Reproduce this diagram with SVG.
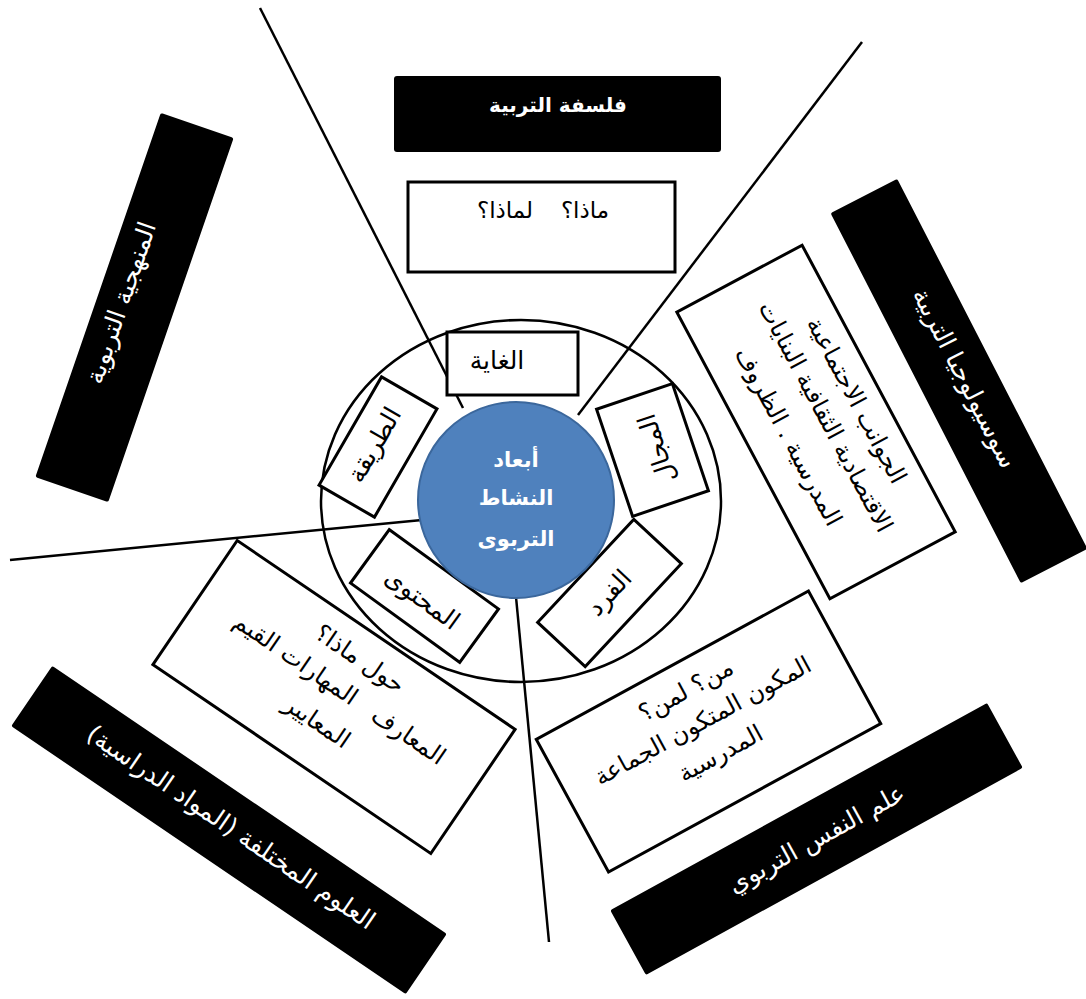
<svg xmlns="http://www.w3.org/2000/svg" width="1086" height="999" viewBox="0 0 1086 999">
  <style>
    .blk { fill: #000; }
    .box { fill: #fff; stroke: #000; stroke-width: 3; }
    .spoke { stroke: #000; stroke-width: 2.5; fill: none; }
    .ring { fill: none; stroke: #000; stroke-width: 2.5; }
    .t { font-family: "DejaVu Sans", sans-serif; direction: rtl; text-anchor: middle; white-space: pre; }
    .w { fill: #fff; }
    .k { fill: #000; }
    .bold { font-weight: bold; }
    .band { font-size: 25px; }
    .note { font-size: 24px; }
    .tag { font-size: 25px; }
  </style>

  <!-- outer theme boxes -->
  <g id="n-philosophy">
    <rect class="blk" x="394" y="76" width="327" height="76" rx="3"/>
    <text class="t w bold" x="558" y="112" font-size="20">فلسفة التربية</text>
  </g>
  <g id="n-why">
    <rect class="box" x="408" y="182" width="267" height="90"/>
    <text class="t k" x="585" y="218" font-size="23">ماذا؟</text>
    <text class="t k" x="505" y="218" font-size="23">لماذا؟</text>
  </g>
  <g id="n-method" transform="translate(134.5,307.5) rotate(-71)">
    <rect class="blk" x="-192.5" y="-38.5" width="385" height="77" rx="2"/>
    <text class="t w band" x="0" y="-6">المنهجية التربوية</text>
  </g>
  <g id="n-sociology" transform="translate(959,381) rotate(62.8)">
    <rect class="blk" x="-208" y="-37.5" width="416" height="75" rx="2"/>
    <text class="t w band" x="0" y="2" font-size="26">سوسيولوجيا التربية</text>
  </g>
  <g id="n-sciences" transform="translate(229,830) rotate(34.2)">
    <rect class="blk" x="-238.5" y="-36.5" width="477" height="73" rx="2"/>
    <text class="t w band" x="0" y="5">العلوم المختلفة (المواد الدراسية)</text>
  </g>
  <g id="n-psychology" transform="translate(816.5,839) rotate(-28.8)">
    <rect class="blk" x="-215" y="-37" width="430" height="74" rx="2"/>
    <text class="t w band" x="0" y="8">علم النفس التربوي</text>
  </g>

  <!-- detail boxes -->
  <g id="n-context" transform="translate(816,422) rotate(61.9)">
    <rect class="box" x="-162.5" y="-71" width="325" height="142"/>
    <text class="t k note" x="0" y="-38">الجوانب الاجتماعية</text>
    <text class="t k note" x="0" y="-3">الاقتصادية الثقافية البنايات</text>
    <text class="t k note" x="0" y="39">المدرسية . الظروف</text>
  </g>
  <g id="n-knowledge" transform="translate(334,697) rotate(34.2)">
    <rect class="box" x="-168" y="-75" width="336" height="150"/>
    <text class="t k note" x="0" y="-38">حول ماذا؟</text>
    <text class="t k note" x="0" y="-2">المعارف   المهارات القيم</text>
    <text class="t k note" x="0" y="38">المعايير</text>
  </g>
  <g id="n-actors" transform="translate(708.5,731.5) rotate(-28.6)">
    <rect class="box" x="-155" y="-75.5" width="310" height="151"/>
    <text class="t k note" x="0" y="-39">من؟ لمن؟</text>
    <text class="t k note" x="0" y="-4">المكون المتكون الجماعة</text>
    <text class="t k note" x="0" y="33">المدرسية</text>
  </g>

  <!-- ring and radial connectors -->
  <g id="connectors">
    <ellipse class="ring" cx="521" cy="501" rx="200" ry="181"/>
    <line class="spoke" x1="260" y1="8" x2="463" y2="408"/>
    <line class="spoke" x1="862" y1="42" x2="578" y2="415"/>
    <line class="spoke" x1="10" y1="560" x2="422" y2="520"/>
    <line class="spoke" x1="516" y1="597" x2="549" y2="942"/>
  </g>

  <!-- dimension labels on the ring -->
  <g id="n-aim">
    <rect class="box" x="447" y="332" width="131" height="63"/>
    <text class="t k tag" x="497" y="369">الغاية</text>
  </g>
  <g id="n-way" transform="translate(378,447) rotate(-60)">
    <rect class="box" x="-62.5" y="-32" width="125" height="64"/>
    <text class="t k tag" x="0" y="4">الطريقة</text>
  </g>
  <g id="n-field" transform="translate(652.5,450) rotate(-108.6)">
    <rect class="box" x="-56.5" y="-40" width="113" height="80"/>
    <text class="t k tag" x="0" y="13">المجال</text>
  </g>
  <g id="n-content" transform="translate(424.5,596) rotate(36)">
    <rect class="box" x="-67.5" y="-33" width="135" height="66"/>
    <text class="t k tag" x="0" y="12">المحتوى</text>
  </g>
  <g id="n-individual" transform="translate(609.5,593) rotate(-47)">
    <rect class="box" x="-70.5" y="-32.5" width="141" height="65"/>
    <text class="t k tag" x="0" y="8">الفرد</text>
  </g>

  <!-- hub -->
  <g id="n-hub">
    <circle cx="516" cy="500" r="98" fill="#4F81BD" stroke="#3B679C" stroke-width="2"/>
    <text class="t w bold" x="516" y="467" font-size="21">أبعاد</text>
    <text class="t w bold" x="516" y="505" font-size="21">النشاط</text>
    <text class="t w bold" x="516" y="546" font-size="21">التربوى</text>
  </g>
</svg>
